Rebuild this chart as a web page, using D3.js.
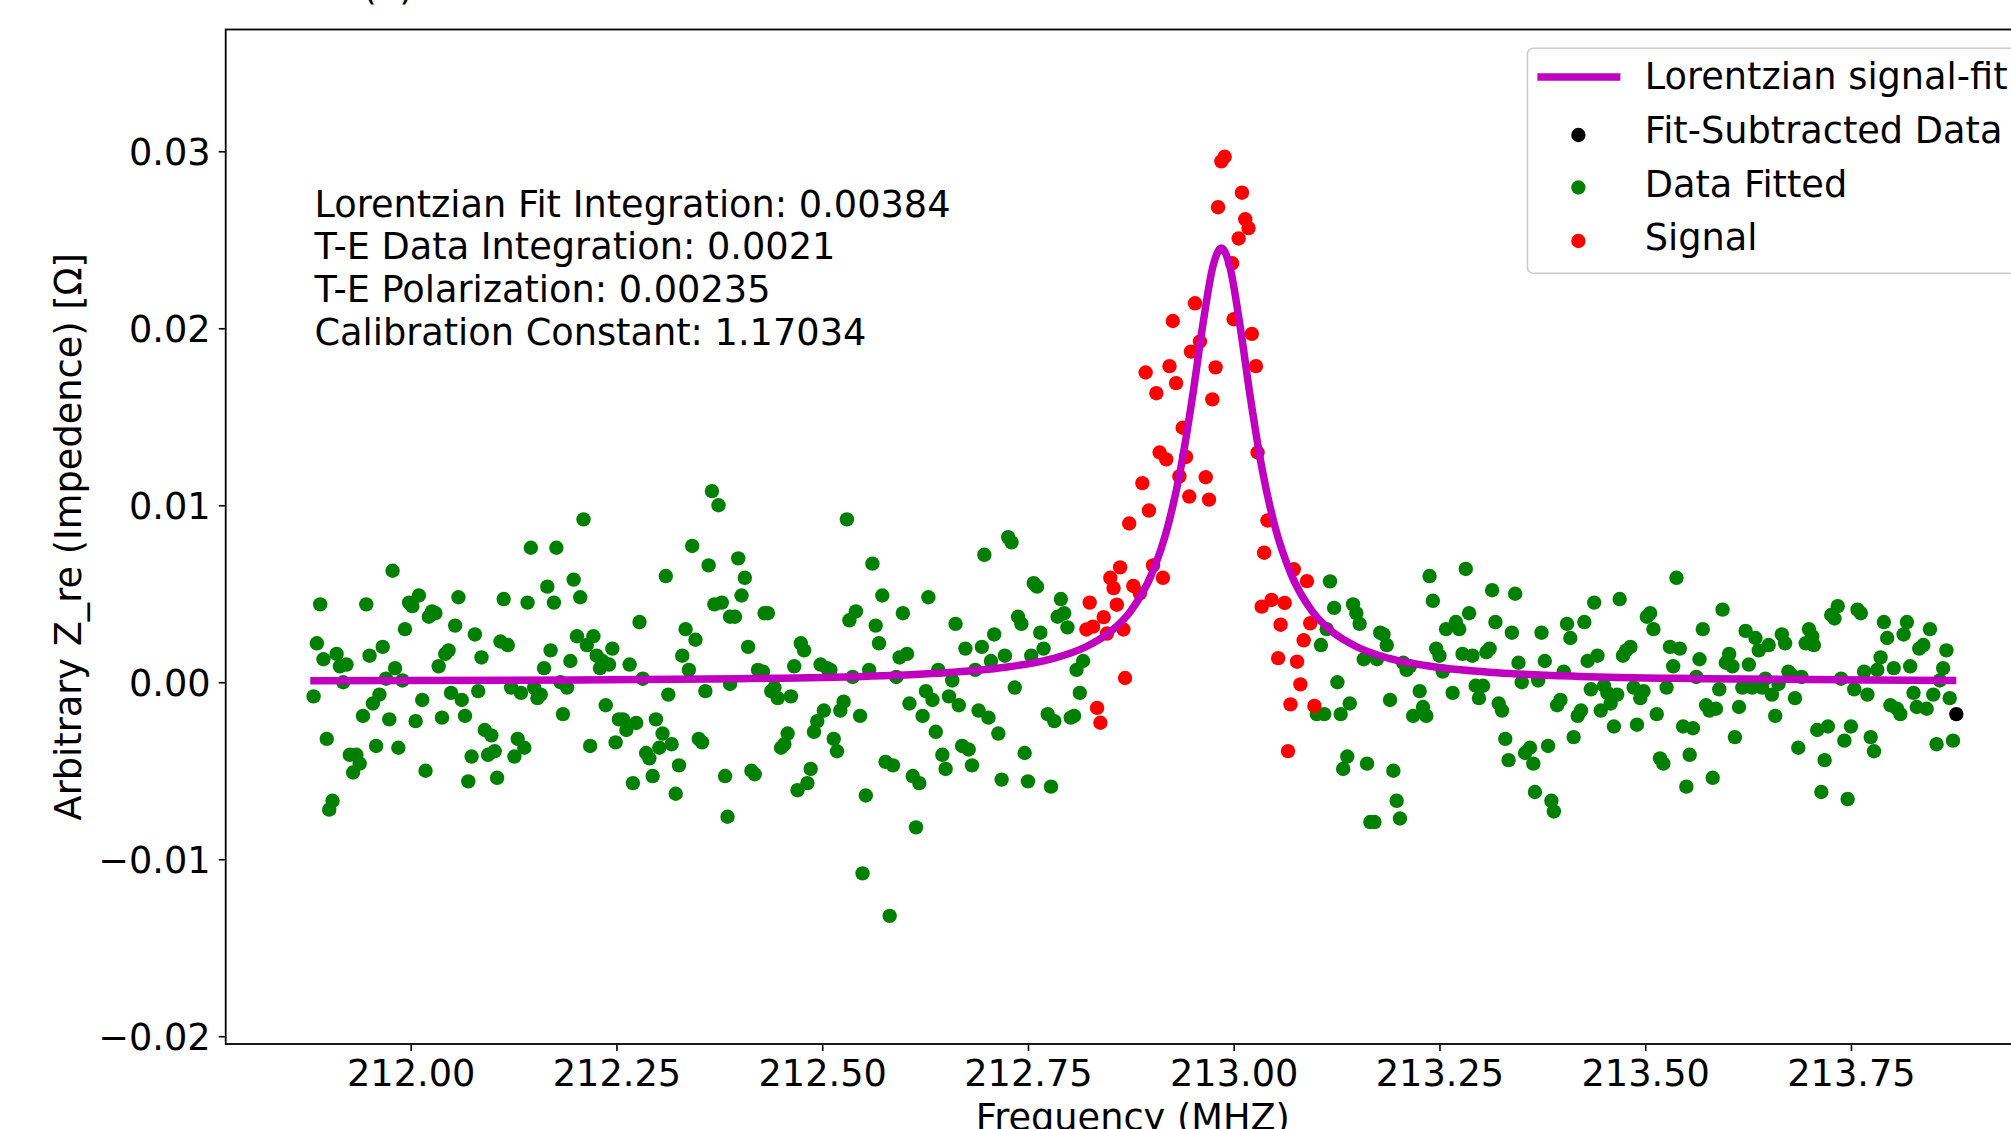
<!DOCTYPE html>
<html>
<head>
<meta charset="utf-8">
<script src="https://cdn.jsdelivr.net/npm/d3@7"></script>
<style>
  html, body { margin: 0; padding: 0; background: #fff; overflow: hidden; }
  #chart { width: 2011px; height: 1129px; }
  text { font-family: "DejaVu Sans", sans-serif; fill: #000; }
</style>
</head>
<body>
<div id="chart"></div>
<script>
// Lorentzian fit curve [MHz, ohm]
const fitCurve = [
  [211.878, 0.00008], [212.2, 0.00012], [212.4, 0.0002], [212.55, 0.00033], [212.65, 0.00054],
  [212.72, 0.00083], [212.78, 0.00133], [212.82, 0.00199], [212.85, 0.00284], [212.875, 0.00403],
  [212.9, 0.00607], [212.92, 0.00882], [212.935, 0.01193], [212.95, 0.01616], [212.962, 0.02005],
  [212.975, 0.02354], [212.985, 0.02453], [212.995, 0.02354], [213.008, 0.02005], [213.02, 0.01616],
  [213.035, 0.01193], [213.05, 0.00882], [213.07, 0.00607], [213.095, 0.00403], [213.12, 0.00284],
  [213.15, 0.00199], [213.19, 0.00133], [213.25, 0.00083], [213.32, 0.00054], [213.42, 0.00033],
  [213.57, 0.0002], [213.77, 0.00012], [213.878, 0.0001]
];

const subtractedPoints = [[213.878, -0.0018]];

const fittedPoints = [
  [211.890,0.0044],[211.886,0.0022],[211.894,0.0013],[211.882,-0.0008],[211.898,-0.0032],[211.905,-0.0067],
  [211.901,-0.0072],[211.910,0.0016],[211.914,0.0009],[211.922,0.0010],[211.918,0.0000],[211.926,-0.0041],
  [211.934,-0.0041],[211.938,-0.0046],[211.930,-0.0051],[211.946,0.0044],[211.950,0.0015],[211.942,-0.0019],
  [211.958,-0.0036],[211.954,-0.0012],[211.962,-0.0007],[211.966,0.0020],[211.970,0.0002],[211.974,-0.0021],
  [211.978,0.0063],[211.981,0.0008],[211.990,0.0001],[211.985,-0.0037],[211.993,0.0030],[211.998,0.0045],
  [212.002,0.0043],[212.010,0.0049],[212.006,-0.0022],[212.014,-0.0010],[212.018,-0.0050],[212.022,0.0037],
  [212.026,0.0040],[212.030,0.0039],[212.034,0.0009],[212.042,0.0016],[212.046,0.0018],[212.038,-0.0020],
  [212.049,-0.0006],[212.054,0.0032],[212.058,0.0048],[212.062,-0.0010],[212.066,-0.0019],[212.070,-0.0056],
  [212.074,-0.0042],[212.078,0.0027],[212.082,-0.0005],[212.086,0.0014],[212.090,-0.0027],[212.098,-0.0030],
  [212.094,-0.0041],[212.102,-0.0039],[212.105,-0.0054],[212.109,0.0023],[212.113,0.0047],[212.118,0.0021],
  [212.122,-0.0003],[212.130,-0.0032],[212.134,-0.0006],[212.126,-0.0042],[212.138,-0.0037],[212.142,0.0045],
  [212.146,0.0076],[212.150,-0.0003],[212.154,-0.0009],[212.158,-0.0007],[212.162,0.0008],[212.166,0.0054],
  [212.170,0.0018],[212.174,0.0045],[212.177,0.0076],[212.182,0.0000],[212.185,-0.0018],[212.190,-0.0003],
  [212.194,0.0012],[212.198,0.0058],[212.202,0.0026],[212.206,0.0048],[212.210,0.0092],[212.214,0.0021],
  [212.218,-0.0036],[212.222,0.0026],[212.226,0.0015],[212.230,0.0008],[212.233,0.0012],[212.237,-0.0013],
  [212.241,0.0010],[212.245,0.0019],[212.249,-0.0034],[212.253,-0.0021],[212.258,-0.0021],[212.262,-0.0027],
  [212.266,0.0010],[212.270,-0.0057],[212.274,-0.0023],[212.278,0.0034],[212.282,0.0002],[212.286,-0.0040],
  [212.290,-0.0043],[212.294,-0.0053],[212.298,-0.0021],[212.302,-0.0037],[212.306,-0.0029],[212.310,0.0060],
  [212.313,-0.0007],[212.317,-0.0035],[212.322,-0.0063],[212.326,-0.0047],[212.330,0.0015],[212.334,0.0030],
  [212.338,0.0007],[212.342,0.0077],[212.346,0.0024],[212.350,-0.0032],[212.354,-0.0034],[212.358,-0.0005],
  [212.362,0.0066],[212.366,0.0108],[212.369,0.0044],[212.374,0.0100],[212.378,0.0045],[212.382,-0.0053],
  [212.385,-0.0076],[212.388,0.0037],[212.388,-0.0001],
  [212.394,0.0037],[212.398,0.0070],[212.406,0.0059],[212.402,0.0049],[212.410,0.0020],[212.414,-0.0050],
  [212.418,-0.0052],[212.422,0.0007],[212.428,0.0006],[212.430,0.0039],[212.434,0.0039],[212.438,-0.0005],
  [212.442,-0.0003],[212.446,-0.0009],[212.450,-0.0037],[212.454,-0.0035],[212.458,-0.0029],[212.462,-0.0008],
  [212.466,0.0009],[212.470,-0.0061],[212.474,0.0022],[212.478,0.0018],[212.482,-0.0057],[212.486,-0.0049],
  [212.490,-0.0028],[212.494,-0.0022],[212.498,0.0010],[212.502,-0.0016],[212.506,0.0008],[212.510,0.0007],
  [212.514,-0.0032],[212.518,-0.0039],[212.522,-0.0016],[212.526,-0.0011],[212.530,0.0092],[212.533,0.0035],
  [212.537,0.0003],[212.541,0.0040],[212.546,-0.0019],[212.549,-0.0108],[212.553,-0.0064],[212.557,0.0007],
  [212.561,0.0067],[212.565,0.0032],[212.569,0.0022],[212.573,0.0049],[212.577,-0.0045],[212.582,-0.0132],
  [212.586,-0.0047],[212.590,0.0003],[212.594,0.0014],[212.598,0.0039],[212.603,0.0016],[212.606,-0.0012],
  [212.610,-0.0053],[212.614,-0.0082],[212.618,-0.0057],[212.622,-0.0019],[212.626,-0.0005],[212.629,0.0048],
  [212.634,-0.0010],[212.638,-0.0028],[212.641,0.0007],[212.646,-0.0041],[212.650,-0.0049],[212.654,-0.0008],
  [212.658,0.0001],[212.662,0.0033],[212.666,-0.0013],[212.670,-0.0036],[212.674,0.0019],[212.678,-0.0038],
  [212.682,-0.0047],[212.686,0.0007],[212.690,-0.0016],[212.694,0.0020],[212.697,0.0072],[212.702,-0.0020],
  [212.705,0.0012],[212.709,0.0027],[212.714,-0.0029],[212.718,-0.0055],[212.722,0.0015],[212.726,0.0082],
  [212.730,0.0079],[212.734,-0.0003],[212.738,0.0037],[212.742,0.0033],[212.746,-0.0040],[212.750,-0.0056],
  [212.754,0.0015],[212.757,0.0056],[212.761,0.0054],[212.765,0.0028],[212.769,0.0019],[212.774,-0.0018],
  [212.778,-0.0059],[212.782,-0.0022],[212.786,0.0037],[212.790,0.0047],[212.794,0.0039],[212.798,0.0031],
  [212.802,-0.0020],[212.806,-0.0019],[212.809,0.0007],[212.813,-0.0006],[212.817,0.0012],
  [213.101,-0.0018],[213.106,0.0021],[213.110,-0.0018],[213.113,0.0030],[213.117,0.0057],[213.122,0.0042],
  [213.126,0.0000],[213.130,-0.0018],[213.133,-0.0049],[213.138,-0.0042],[213.141,-0.0012],[213.145,0.0044],
  [213.149,0.0039],[213.153,0.0033],[213.158,0.0013],[213.162,-0.0046],[213.166,-0.0079],[213.171,-0.0079],
  [213.174,0.0013],[213.178,0.0028],[213.182,0.0027],[213.186,0.0021],[213.190,-0.0010],[213.194,-0.0050],
  [213.198,-0.0067],[213.202,-0.0077],[213.206,0.0011],[213.210,0.0007],[213.214,0.0009],[213.218,-0.0019],
  [213.226,-0.0005],[213.230,-0.0014],[213.234,-0.0019],[213.238,0.0060],[213.242,0.0046],[213.246,0.0019],
  [213.250,0.0015],[213.254,0.0006],[213.258,0.0030],[213.266,-0.0006],[213.270,0.0034],[213.274,0.0030],
  [213.278,0.0016],[213.282,0.0064],[213.286,0.0039],[213.290,0.0015],[213.294,-0.0002],[213.298,-0.0009],
  [213.303,-0.0002],[213.307,0.0017],[213.311,0.0019],[213.314,0.0052],[213.318,0.0034],[213.322,-0.0012],
  [213.326,-0.0016],[213.330,-0.0032],[213.334,-0.0044],[213.338,0.0028],[213.342,0.0050],[213.346,0.0011],
  [213.350,0.0000],[213.354,-0.0040],
  [213.360,-0.0037],[213.364,-0.0046],[213.366,-0.0062],[213.370,0.0001],[213.374,0.0028],[213.378,0.0012],
  [213.382,-0.0036],[213.386,-0.0067],[213.389,-0.0073],[213.393,-0.0013],[213.397,-0.0010],[213.401,0.0006],
  [213.405,0.0033],[213.409,0.0025],[213.413,-0.0031],[213.418,-0.0019],[213.422,-0.0016],[213.426,0.0034],
  [213.430,0.0012],[213.434,-0.0004],[213.438,0.0045],[213.442,0.0015],[213.446,-0.0016],[213.450,-0.0002],
  [213.454,-0.0006],[213.458,-0.0012],[213.462,-0.0025],[213.466,-0.0007],[213.469,0.0047],[213.473,0.0015],
  [213.477,0.0018],[213.482,0.0020],[213.486,-0.0003],[213.490,-0.0024],[213.494,-0.0009],[213.498,-0.0005],
  [213.502,0.0037],[213.506,0.0039],[213.510,0.0030],[213.514,-0.0018],[213.518,-0.0043],[213.522,-0.0046],
  [213.526,-0.0003],[213.530,0.0020],[213.534,0.0009],[213.538,0.0059],[213.542,0.0019],[213.546,-0.0025],
  [213.550,-0.0059],[213.554,-0.0041],[213.558,-0.0026],[213.562,0.0003],[213.566,0.0013],[213.570,0.0030],
  [213.574,-0.0013],[213.578,-0.0016],[213.582,-0.0054],[213.586,-0.0015],[213.590,-0.0004],[213.594,0.0041],
  [213.598,0.0011],[213.602,0.0016],[213.606,0.0009],[213.609,-0.0031],[213.614,-0.0014],[213.618,-0.0003],
  [213.622,0.0029],[213.626,0.0010],[213.630,-0.0003],[213.634,0.0025],[213.638,0.0018],[213.642,-0.0003],
  [213.646,0.0002],[213.650,0.0021],[213.654,-0.0007],[213.658,-0.0019],[213.662,-0.0001],[213.666,0.0027],
  [213.670,0.0022],[213.674,0.0006],[213.678,0.0004],[213.682,-0.0009],[213.686,-0.0037],[213.690,0.0003],
  [213.695,0.0022],[213.699,0.0030],[213.703,0.0026],[213.705,0.0021],[213.709,-0.0027],[213.714,-0.0062],
  [213.718,-0.0044],[213.722,-0.0025],[213.726,0.0038],[213.730,0.0036],[213.734,0.0043],[213.738,0.0002],
  [213.742,-0.0033],[213.746,-0.0066],[213.750,-0.0025],[213.754,-0.0004],[213.758,0.0041],[213.762,0.0039],
  [213.766,0.0006],[213.770,-0.0007],[213.774,-0.0031],[213.778,-0.0039],[213.782,0.0007],[213.786,0.0014],
  [213.790,0.0034],[213.794,0.0025],[213.798,-0.0013],[213.802,0.0008],[213.806,-0.0015],[213.810,-0.0018],
  [213.814,0.0027],[213.818,0.0034],[213.822,0.0009],[213.826,-0.0006],[213.830,-0.0014],[213.833,0.0019],
  [213.838,0.0021],[213.842,-0.0015],[213.846,0.0030],[213.850,-0.0007],[213.854,-0.0035],[213.858,0.0001],
  [213.862,0.0008],[213.866,0.0018],[213.870,-0.0009],[213.874,-0.0033]
];

const signalPoints = [
  [212.821,0.00298],[212.825,0.0045],[212.829,0.00314],[212.834,-0.00145],[212.838,-0.00229],[212.842,0.00368],
  [212.846,0.00275],[212.850,0.0059],[212.854,0.00532],[212.858,0.00438],[212.862,0.00649],[212.868,0.00024],
  [212.866,0.00298],[212.873,0.00897],[212.878,0.00544],[212.886,0.00502],[212.889,0.01125],[212.893,0.0175],
  [212.897,0.0097],[212.902,0.0066],[212.906,0.01633],[212.910,0.01298],[212.914,0.0059],[212.918,0.01259],
  [212.922,0.01786],[212.926,0.02041],[212.930,0.0169],[212.934,0.01163],[212.938,0.01438],[212.942,0.01273],
  [212.946,0.01049],[212.948,0.01868],[212.953,0.02141],[212.959,0.01925],[212.966,0.01158],[212.970,0.01032],
  [212.974,0.01598],[212.978,0.01779],[212.981,0.02684],[212.985,0.02943],[212.989,0.02969],[212.998,0.02367],
  [213.000,0.02051],[213.006,0.02507],[213.010,0.02766],[213.014,0.02616],[213.018,0.02566],[213.022,0.01968],
  [213.027,0.01786],[213.029,0.01298],[213.034,0.00427],[213.037,0.00732],[213.041,0.00914],[213.046,0.00465],
  [213.054,0.00136],[213.057,0.00325],[213.062,0.00448],[213.066,-0.00389],[213.069,-0.00125],[213.073,0.00638],
  [213.077,0.00116],[213.081,-0.00012],[213.085,0.00237],[213.089,0.00571],[213.093,0.00333],[213.098,-0.00134]
];

const xTicks = [212.00, 212.25, 212.50, 212.75, 213.00, 213.25, 213.50, 213.75];
const xTickLabels = ["212.00", "212.25", "212.50", "212.75", "213.00", "213.25", "213.50", "213.75"];
const yTicks = [-0.02, -0.01, 0.00, 0.01, 0.02, 0.03];
const yTickLabels = ["\u22120.02", "\u22120.01", "0.00", "0.01", "0.02", "0.03"];
const xDomain = [211.7752, 213.9797];
const yDomain = [-0.02044, 0.03688];

const statsLines = [
  "Lorentzian Fit Integration: 0.00384",
  "T-E Data Integration: 0.0021",
  "T-E Polarization: 0.00235",
  "Calibration Constant: 1.17034"
];
const legendLabels = ["Lorentzian signal-fit", "Fit-Subtracted Data", "Data Fitted", "Signal"];
const legendColors = ["#bf00bf", "#000000", "#008000", "#ff0000"];

function renderChart() {
  const width = 2011, height = 1129;
  const margin = { top: 29.5, right: -29, bottom: 85, left: 225.7 };
  const innerW = width - margin.left - margin.right;
  const innerH = height - margin.top - margin.bottom;
  const fs = 36.7;

  const svg = d3.select("#chart").append("svg")
    .attr("width", width).attr("height", height)
    .style("display", "block");

  // partly cropped title at the very top
  svg.append("text")
    .attr("x", 388).attr("y", -1.5)
    .attr("text-anchor", "middle")
    .style("font-size", fs + "px")
    .text("(a)");

  const g = svg.append("g").attr("transform", `translate(${margin.left},${margin.top})`);

  const x = d3.scaleLinear().domain(xDomain).range([0, innerW]);
  const y = d3.scaleLinear().domain(yDomain).range([innerH, 0]);

  const xAxis = g.append("g")
    .attr("transform", `translate(0,${innerH})`)
    .call(d3.axisBottom(x).tickValues(xTicks).tickFormat((d, i) => xTickLabels[i])
      .tickSize(7).tickPadding(9).tickSizeOuter(0));
  const yAxis = g.append("g")
    .call(d3.axisLeft(y).tickValues(yTicks).tickFormat((d, i) => yTickLabels[i])
      .tickSize(7).tickPadding(8).tickSizeOuter(0));

  [xAxis, yAxis].forEach(a => {
    a.select(".domain").remove();
    a.selectAll(".tick line").attr("stroke", "#000").attr("stroke-width", 1.6);
    a.selectAll(".tick text").style("font-size", fs + "px").attr("font-family", "DejaVu Sans").attr("fill", "#000");
  });
  yAxis.selectAll(".tick text").attr("dy", "0.37em");

  // scatter layers (matplotlib zorder: scatter below the line)
  const dots = (pts, color) => g.append("g").selectAll("circle")
    .data(pts).enter().append("circle")
    .attr("cx", d => x(d[0]))
    .attr("cy", d => y(d[1]))
    .attr("r", 7.2)
    .attr("fill", color);

  dots(fittedPoints, "#008000");
  dots(signalPoints, "#ff0000");
  dots(subtractedPoints, "#000000");

  const line = d3.line()
    .x(d => x(d[0]))
    .y(d => y(d[1]))
    .curve(d3.curveMonotoneX);

  g.append("path")
    .datum(fitCurve)
    .attr("d", line)
    .attr("fill", "none")
    .attr("stroke", "#bf00bf")
    .attr("stroke-width", 7.5)
    .attr("stroke-linejoin", "round");

  // spines
  g.append("rect")
    .attr("width", innerW).attr("height", innerH)
    .attr("fill", "none").attr("stroke", "#000").attr("stroke-width", 1.8);

  // stats text block
  svg.append("text")
    .style("font-size", fs + "px")
    .selectAll("tspan")
    .data(statsLines).enter().append("tspan")
    .attr("x", 314.4)
    .attr("y", (d, i) => 216.5 + i * 42.8)
    .text(d => d);

  // legend
  const lg = svg.append("g").attr("transform", "translate(1527.4,48.3)");
  lg.append("rect")
    .attr("width", 600).attr("height", 225).attr("rx", 6)
    .attr("fill", "#fff").attr("fill-opacity", 0.8)
    .attr("stroke", "#cccccc").attr("stroke-width", 1.6);

  const rowY = [28.7, 86.7, 139.2, 192.7];
  const textY = [41, 95, 148.4, 201.7];
  legendLabels.forEach((label, i) => {
    if (i === 0) {
      lg.append("line")
        .attr("x1", 10).attr("x2", 93)
        .attr("y1", rowY[i]).attr("y2", rowY[i])
        .attr("stroke", legendColors[i]).attr("stroke-width", 7.5);
    } else {
      lg.append("circle")
        .attr("cx", 51).attr("cy", rowY[i]).attr("r", 7.2)
        .attr("fill", legendColors[i]);
    }
    lg.append("text")
      .attr("x", 117.3).attr("y", textY[i])
      .style("font-size", fs + "px")
      .text(label);
  });

  // axis labels
  svg.append("text")
    .attr("x", margin.left + innerW / 2).attr("y", 1129.5)
    .attr("text-anchor", "middle")
    .style("font-size", fs + "px")
    .text("Frequency (MHZ)");

  svg.append("text")
    .attr("transform", `translate(80.5,${margin.top + innerH / 2}) rotate(-90)`)
    .attr("text-anchor", "middle")
    .style("font-size", fs + "px")
    .text("Arbitrary Z_re (Impedence) [\u03a9]");
}

renderChart();
</script>
</body>
</html>
